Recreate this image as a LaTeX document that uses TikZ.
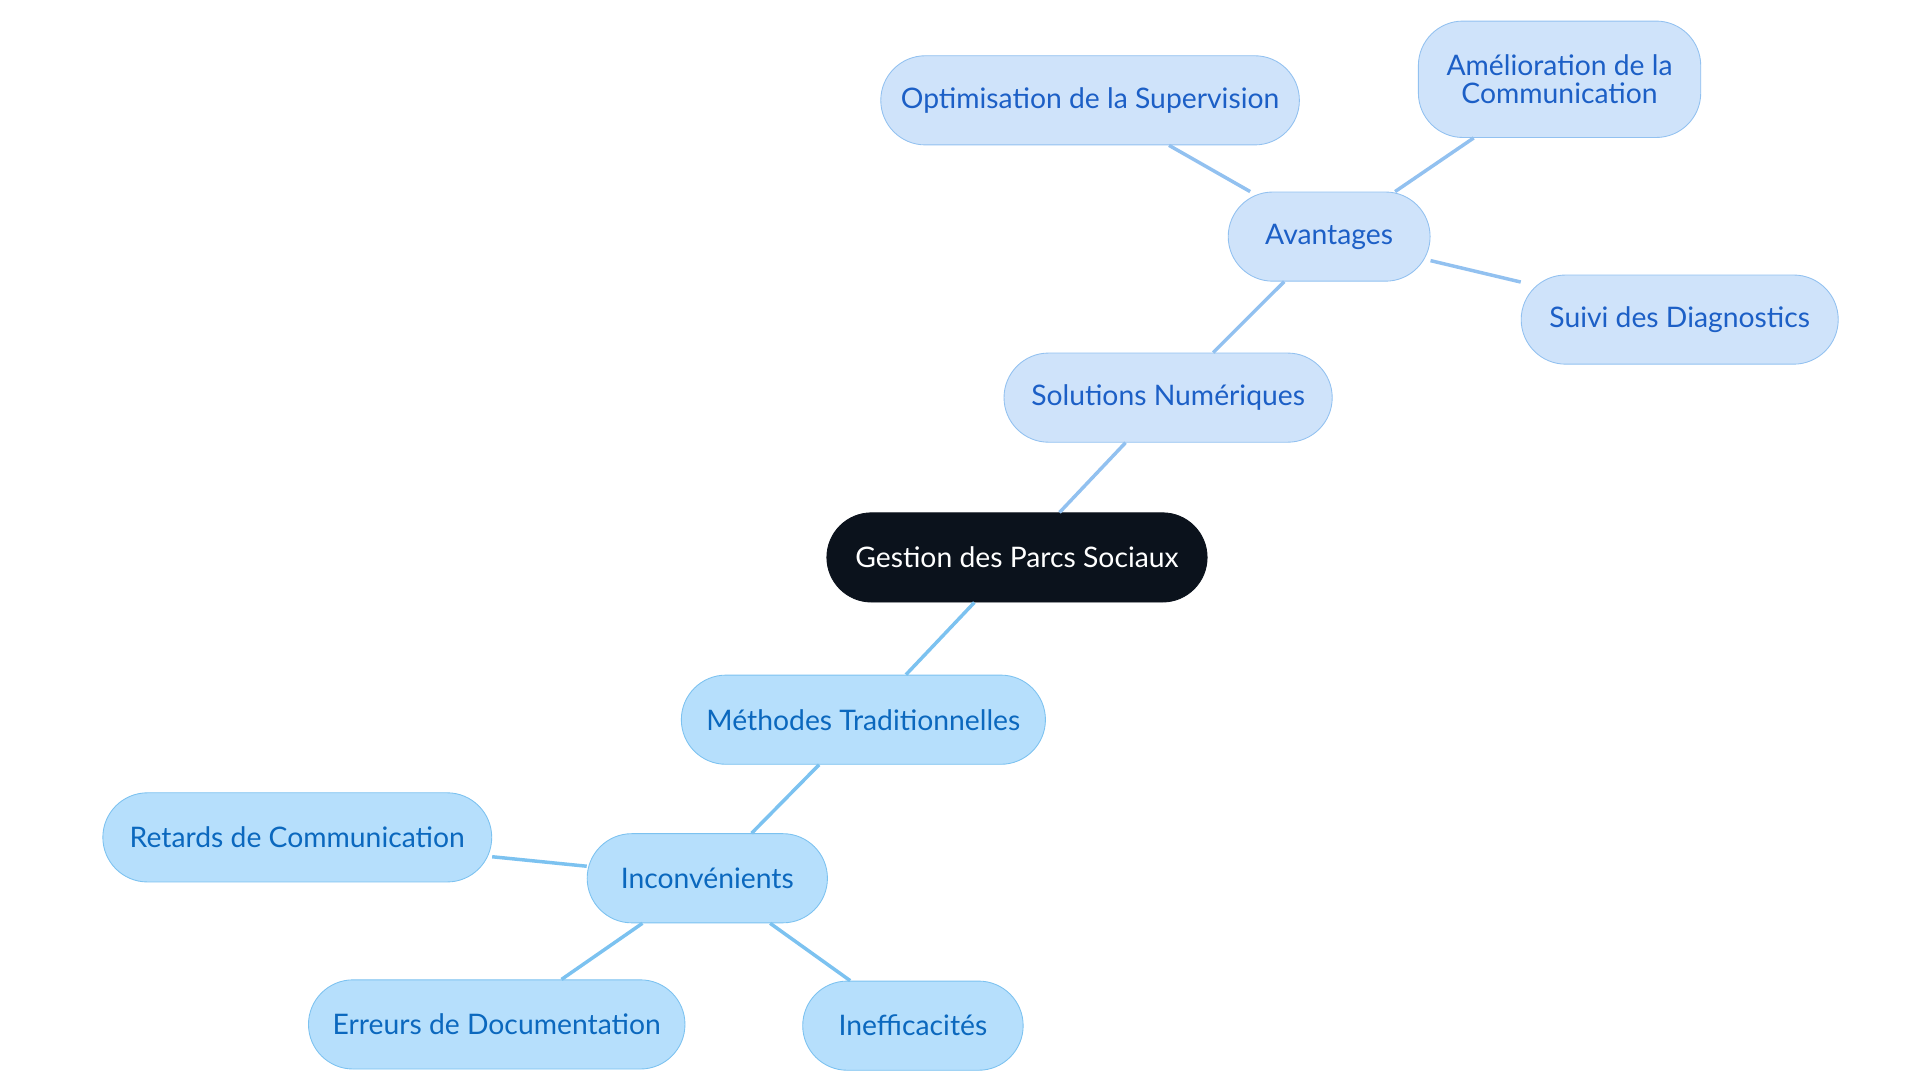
\documentclass[tikz,border=0pt]{standalone}
\usepackage{fontspec}
\setmainfont{Lato}
\usetikzlibrary{positioning}
\definecolor{rootfill}{HTML}{0B121C}
\definecolor{upfill}{HTML}{CFE3FA}
\definecolor{upline}{HTML}{92C1F0}
\definecolor{uptext}{HTML}{1C5FC6}
\definecolor{lowfill}{HTML}{B6DFFC}
\definecolor{lowline}{HTML}{7CC2F0}
\definecolor{lowtext}{HTML}{0B68BE}
\tikzset{rootnode/.style={
  % The shape:
  rectangle,rounded corners=0.72cm,
  minimum height=1.44cm,
  % The rest
  draw=rootfill,fill=rootfill,text=white,
  font=\fontsize{13}{15}\selectfont,
  }
}
\tikzset{upnode/.style={
  rectangle,rounded corners=0.72cm,
  minimum height=1.44cm,align=center,
  draw=upline,fill=upfill,text=uptext,
  font=\fontsize{13}{13}\selectfont,
  }
}
\tikzset{lownode/.style={
  rectangle,rounded corners=0.72cm,
  minimum height=1.44cm,align=center,
  draw=lowline,fill=lowfill,text=lowtext,
  font=\fontsize{13}{13}\selectfont,
  }
}
\begin{document}
\begin{tikzpicture}[
    x=0.02cm,y=-0.02cm,
    upedge/.style={draw=upline,line width=1.6pt},
    lowedge/.style={draw=lowline,line width=1.6pt}
  ]
  \useasboundingbox (0,0) rectangle (1550,875);
  \node (root)  [rootnode,minimum width=6.14cm] at (821,450)  {Gestion des Parcs Sociaux};
  \node (sol)   [upnode,minimum width=5.3cm]    at (943,321)  {Solutions Numériques};
  \node (avan)  [upnode,minimum width=3.26cm]   at (1073,191) {Avantages};
  \node (opti)  [upnode,minimum width=6.76cm]   at (880,81)   {Optimisation de la Supervision};
  \node (amel)  [upnode,minimum width=4.56cm,minimum height=1.88cm] at (1259,64) {Amélioration de la\\Communication};
  \node (suivi) [upnode,minimum width=5.12cm]   at (1356,258) {Suivi des Diagnostics};
  \node (meth)  [lownode,minimum width=5.88cm]  at (697,581)  {Méthodes Traditionnelles};
  \node (inco)  [lownode,minimum width=3.88cm]  at (571,709)  {Inconvénients};
  \node (ret)   [lownode,minimum width=6.28cm]  at (240,676)  {Retards de Communication};
  \node (err)   [lownode,minimum width=6.08cm]  at (401,827)  {Erreurs de Documentation};
  \node (inef)  [lownode,minimum width=3.56cm]  at (737,828)  {Inefficacités};

  \path (root) edge[upedge]  (sol)   % upper branch
        (sol)  edge[upedge]  (avan)
        (avan) edge[upedge]  (opti)
        (avan) edge[upedge]  (amel)
        (avan) edge[upedge]  (suivi)
        (root) edge[lowedge] (meth)  % lower branch
        (meth) edge[lowedge] (inco)
        (inco) edge[lowedge] (ret)
        (inco) edge[lowedge] (err)
        (inco) edge[lowedge] (inef);
\end{tikzpicture}
\end{document}
